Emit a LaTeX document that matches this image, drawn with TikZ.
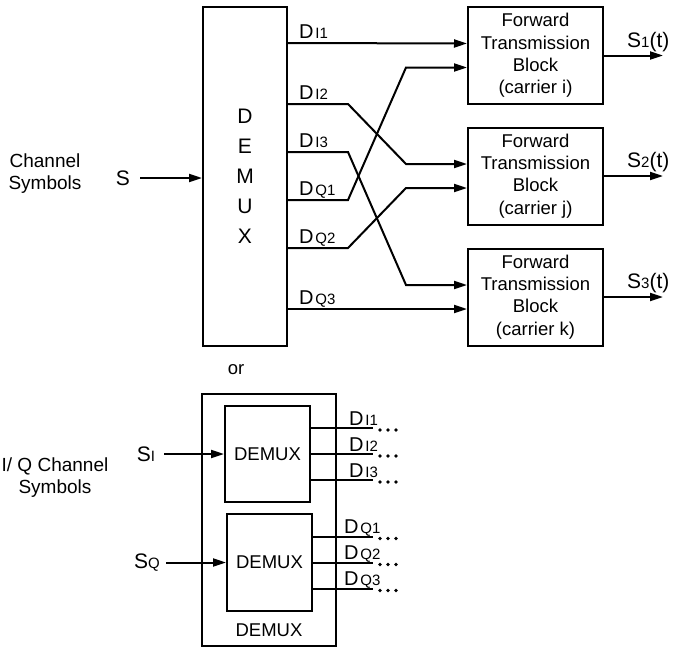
\documentclass[tikz,border=0pt]{standalone}
\usepackage{fontspec}
\setmainfont{Liberation Sans}
\usetikzlibrary{arrows.meta}
\newcommand{\smallsub}[1]{{\fontsize{15}{15}\selectfont #1}}
\newcommand{\dsig}[1]{{\fontsize{20}{20}\selectfont D}\kern2pt\smallsub{#1}}
\newcommand{\ssig}[1]{{\fontsize{21}{21}\selectfont S}\smallsub{#1}}

\begin{document}
\begin{tikzpicture}[x=1pt,y=-1pt,>={Triangle[length=13pt,width=8pt]},line width=2pt,
                   box/.style={draw,inner sep=0pt},
                   fwd/.style={box,minimum width=135pt,minimum height=97pt,align=center},
                   every node/.style={font=\fontsize{18.5}{22.3}\selectfont}]
\useasboundingbox (0,0) rectangle (675,648);
\node[box,minimum width=84pt,minimum height=339pt,align=center,
      font=\fontsize{21}{30}\selectfont] (demux) at (245,176.5) {D\\E\\M\\U\\X};
\node[align=center,font=\fontsize{19}{22}\selectfont] (chan) at (45,174) {Channel\\Symbols};
\node[font=\fontsize{21}{21}\selectfont] (s) at (123,178) {S};
\draw[->] ([xshift=6pt]s.east) -- (demux.west |- s);
\foreach \i/\y/\c in {1/55.5/i,2/176/j,3/297/k}{
  \node[fwd] (fwd\i) at (535.5,\y) {Forward\\Transmission\\Block\\(carrier \c)};
  \coordinate (in\i-a) at ([yshift=12pt]fwd\i.west);
  \coordinate (in\i-b) at ([yshift=-12pt]fwd\i.west);
  \draw[->] (fwd\i.east) -- ++(59,0)
    node[pos=0.75,above=3pt,inner sep=0pt,font=\fontsize{21}{21}\selectfont] (out\i) {\ssig{\i}(t)};
}
\foreach \n/\y in {I1/43,I2/104,I3/152,Q1/200,Q2/248,Q3/309}{
  \coordinate (o\n) at (demux.east |- 0,\y);
  \node[anchor=base west,inner sep=0pt] (l\n) at (298,\y-5) {\dsig{\n}};
}
\draw[->] (oI1) -- (in1-a);
\draw[->] (oI2) -- ++(60,0) -- ([xshift=-61pt]in2-a) -- (in2-a);
\draw[->] (oI3) -- ++(60,0) -- ([xshift=-61pt]in3-a) -- (in3-a);
\draw[->] (oQ1) -- ++(60,0) -- ([xshift=-61pt]in1-b) -- (in1-b);
\draw[->] (oQ2) -- ++(60,0) -- ([xshift=-61pt]in2-b) -- (in2-b);
\draw[->] (oQ3) -- (in3-b);
\node (or) at (236,370) {or};
\node[box,minimum width=134pt,minimum height=252pt] (outer) at (269,520) {};
\node (outerlab) at (269,630) {DEMUX};
\node[box,minimum width=85pt,minimum height=96pt] (dmI) at (267.5,454) {DEMUX};
\node[box,minimum width=85pt,minimum height=97pt] (dmQ) at (269.5,562.5) {DEMUX};
\node[align=center,font=\fontsize{19}{22}\selectfont] (iq) at (55,477.5) {I/ Q Channel\\Symbols};
\node (si) at (146,454) {\ssig{I}};
\node (sq) at (147,563) {\ssig{Q}};
\draw[->] ([xshift=5pt]si.east |- dmI.west) -- (dmI.west);
\draw[->] ([xshift=2pt]sq.east |- dmQ.west) -- (dmQ.west);
\foreach \n/\dy in {1/26,2/0,3/-26}{
  \draw ([yshift=\dy pt]dmI.east) -- ++(62,0) coordinate (eI\n);
  \node[anchor=base west,inner sep=0pt] (bI\n) at ([xshift=-25pt,yshift=3pt]eI\n) {\dsig{I\n}};
  \foreach \dx in {7,15,23} \fill ([xshift=\dx pt,yshift=-2pt]eI\n) circle (1.9pt);
  \draw ([yshift=\dy pt]dmQ.east) -- ++(60,0) coordinate (eQ\n);
  \node[anchor=base west,inner sep=0pt] (bQ\n) at ([xshift=-30pt,yshift=3pt]eQ\n) {\dsig{Q\n}};
  \foreach \dx in {7,15,23} \fill ([xshift=\dx pt,yshift=-2pt]eQ\n) circle (1.9pt);
}
\end{tikzpicture}
\end{document}
